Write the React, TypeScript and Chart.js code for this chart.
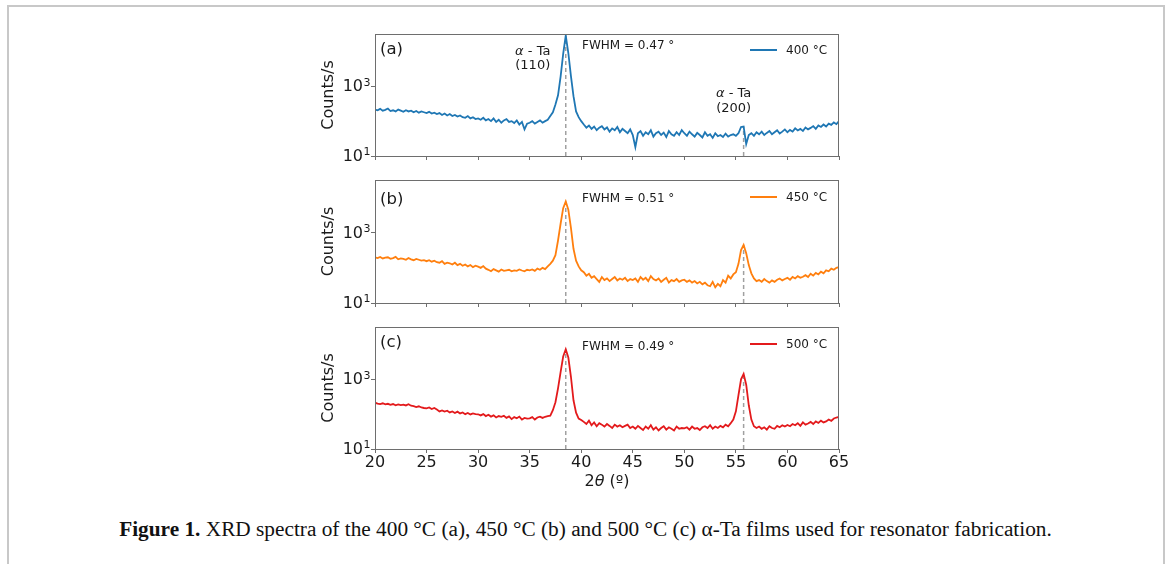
import React, { useEffect, useRef } from 'react';
import { Chart, registerables } from 'chart.js';

Chart.register(...registerables);

// ---------- data ----------
// 2θ sampling grid (degrees), 0.25° steps from 20 to 65
const twoTheta: number[] = Array.from({ length: 181 }, (_, i) => 20 + i * 0.25);

const xTicks = [20, 25, 30, 35, 40, 45, 50, 55, 60, 65];
const yTickValues = [10, 1000];
const yTickBase = '10';
const yTickExponents = ['1', '3'];

const peakPositions = [38.5, 55.75];
const peakNames = ['(110)', '(200)'];
const phaseName = ' - Ta';

const panelLabels = ['(a)', '(b)', '(c)'];
const legendLabels = ['400 °C', '450 °C', '500 °C'];
const fwhmTexts = ['FWHM = 0.47 °', 'FWHM = 0.51 °', 'FWHM = 0.49 °'];
const seriesColors = ['#1f77b4', '#ff7f0e', '#e31a1c'];

// 400 °C
const counts400: number[] = [
  215, 205, 225, 200, 210, 230, 195, 205, 190, 215, 200, 185, 205, 190, 200, 180, 195, 175, 190, 180,
  170, 185, 165, 175, 160, 170, 150, 165, 145, 160, 140, 150, 135, 145, 130, 125, 140, 120, 130, 115,
  120, 110, 125, 105, 115, 100, 120, 95, 110, 90, 105, 115, 95, 100, 88, 105, 80, 95, 58, 85,
  90, 100, 85, 95, 105, 90, 100, 110, 140, 180, 300, 550, 1900, 8500, 28500, 9000, 2000, 520, 190, 130,
  100, 80, 65, 75, 60, 70, 55, 65, 72, 58, 66, 50, 62, 55, 68, 48, 60, 52, 45, 58,
  40, 18, 45, 52, 38, 48, 42, 55, 36, 45, 50, 40, 47, 35, 52, 42, 38, 48, 40, 55,
  45, 38, 50, 42, 36, 46, 40, 34, 48, 38, 42, 33, 45, 37, 40, 35, 44, 36, 40, 42,
  38, 45, 68, 70, 22, 40, 45, 38, 48, 42, 50, 40, 46, 52, 42, 48, 55, 44, 50, 58,
  48, 56, 50, 62, 54, 60, 52, 66, 58, 64, 72, 60, 75, 68, 80, 70, 85, 78, 92, 82,
  100,
];

// 450 °C
const counts450: number[] = [
  200, 190, 205, 185, 195, 200, 180, 190, 205, 175, 185, 180, 170, 190, 175, 165, 180, 170, 160, 165,
  155, 165, 150, 160, 145, 140, 155, 130, 140, 135, 125, 140, 120, 130, 115, 125, 110, 120, 105, 115,
  108, 100, 112, 95, 88, 80, 92, 85, 78, 90, 82, 85, 88, 80, 85, 82, 90, 84, 80, 88,
  85, 90, 82, 95, 88, 100, 92, 110, 130, 160, 230, 600, 1800, 5000, 7700, 4500, 1400, 350, 160, 110,
  85, 75, 60, 68, 52, 58, 48, 40, 55, 45, 50, 42, 48, 55, 44, 50, 46, 52, 42, 48,
  45, 50, 40, 55, 46, 52, 42, 58, 48, 44, 50, 40, 46, 52, 38, 45, 42, 48, 40, 44,
  46, 40, 44, 38, 42, 36, 40, 34, 38, 32, 30, 40, 28, 35, 30, 45, 38, 60, 50, 65,
  75, 130, 320, 450, 260, 120, 70, 50, 42, 45, 40, 48, 42, 38, 44, 40, 46, 50, 44, 48,
  52, 46, 55, 50, 58, 52, 56, 62, 55, 68, 60, 72, 65, 78, 70, 85, 80, 95, 88, 100,
  105,
];

// 500 °C
const counts500: number[] = [
  213, 200, 195, 205, 190, 198, 185, 195, 180, 190, 182, 188, 178, 192, 175, 170, 160, 168, 155, 150,
  147, 155, 140, 150, 135, 120, 128, 118, 125, 112, 120, 108, 118, 105, 112, 100, 108, 98, 105, 100,
  99, 92, 100, 88, 96, 85, 92, 80, 88, 84, 90, 78, 86, 72, 82, 76, 85, 70, 78, 74,
  76, 82, 70, 80, 85, 78, 84, 88, 90, 130, 220, 550, 1600, 4500, 7250, 4200, 1200, 250, 110, 75,
  68, 60, 52, 65, 48, 58, 45, 55, 50, 44, 52, 46, 40, 50, 44, 48, 42, 46, 50, 40,
  44, 38, 46, 40, 35, 44, 38, 48, 36, 42, 34, 40, 45, 36, 42, 38, 34, 44, 38, 40,
  39, 42, 36, 44, 38, 40, 35, 42, 45, 40, 48, 38, 44, 40, 46, 42, 50, 45, 55, 70,
  120, 350, 1000, 1420, 700, 180, 70, 45, 40, 44, 38, 42, 36, 45, 40, 38, 46, 42, 48, 44,
  49, 45, 52, 48, 55, 46, 58, 50, 54, 60, 52, 62, 56, 65, 58, 62, 70, 64, 75, 80,
  84,
];

const seriesList = [counts400, counts450, counts500];

// ---------- layout ----------
const FONT = '"DejaVu Sans", sans-serif';
const AXIS_COLOR = '#6e6e6e';
const TEXT_COLOR = '#1a1a1a';
const CANVAS_LEFT = 300;
const CANVAS_W = 560;
const PANEL_TOPS = [20, 166, 313];
const PANEL_HEIGHTS = [150, 151, 190];
const X_BOX = [14, 14, 54];
// vertical offsets (canvas-relative) for label, fwhm, legend
const LABEL_Y = [30, 34, 30];
const FWHM_Y = [26, 33, 34];
const LEGEND_Y = [30, 31, 31];

function valueAt(series: number[], angle: number): number {
  let best = 0;
  for (let i = 0; i < twoTheta.length; i++) {
    if (Math.abs(twoTheta[i] - angle) < Math.abs(twoTheta[best] - angle)) best = i;
  }
  return series[best];
}

function drawAlphaText(ctx: CanvasRenderingContext2D, cx: number, cy: number, size: number) {
  ctx.font = `italic ${size}px ${FONT}`;
  const wa = ctx.measureText('α').width;
  ctx.font = `${size}px ${FONT}`;
  const wr = ctx.measureText(phaseName).width;
  const x0 = cx - (wa + wr) / 2;
  ctx.textAlign = 'left';
  ctx.font = `italic ${size}px ${FONT}`;
  ctx.fillText('α', x0, cy);
  ctx.font = `${size}px ${FONT}`;
  ctx.fillText(phaseName, x0 + wa, cy);
}

function Panel({ idx }: { idx: number }) {
  const ref = useRef<HTMLCanvasElement>(null);
  useEffect(() => {
    const canvas = ref.current;
    if (!canvas) return;
    const series = seriesList[idx];
    const color = seriesColors[idx];
    const showX = idx === 2;

    const decor = {
      id: 'decor' + idx,
      afterDatasetsDraw(chart: any) {
        const { ctx, chartArea: a, scales } = chart;
        ctx.save();
        // frame
        ctx.strokeStyle = AXIS_COLOR;
        ctx.lineWidth = 1;
        ctx.strokeRect(a.left + 0.5, a.top + 0.5, a.right - a.left - 1, a.bottom - a.top);
        ctx.fillStyle = TEXT_COLOR;
        ctx.textBaseline = 'middle';
        // y tick labels: 10^n
        yTickValues.forEach((v, k) => {
          const y = scales.y.getPixelForValue(v);
          ctx.font = `16px ${FONT}`;
          ctx.textAlign = 'right';
          ctx.fillText(yTickBase, a.left - 12, y + 1);
          ctx.font = `11px ${FONT}`;
          ctx.textAlign = 'left';
          ctx.fillText(yTickExponents[k], a.left - 11.5, y - 3.5);
        });
        // panel label
        ctx.font = `16.5px ${FONT}`;
        ctx.textAlign = 'left';
        ctx.fillText(panelLabels[idx], 80, LABEL_Y[idx]);
        // FWHM
        ctx.font = `12px ${FONT}`;
        ctx.fillText(fwhmTexts[idx], 282, FWHM_Y[idx]);
        // legend
        ctx.strokeStyle = color;
        ctx.lineWidth = 2;
        ctx.beginPath();
        ctx.moveTo(450, LEGEND_Y[idx]);
        ctx.lineTo(477, LEGEND_Y[idx]);
        ctx.stroke();
        ctx.fillText(legendLabels[idx], 486, LEGEND_Y[idx] + 0.5);
        // y title
        ctx.save();
        ctx.translate(29, (a.top + a.bottom) / 2);
        ctx.rotate(-Math.PI / 2);
        ctx.textAlign = 'center';
        ctx.font = `16px ${FONT}`;
        ctx.fillText('Counts/s', 0, 0);
        ctx.restore();
        // peak annotations (panel a)
        if (idx === 0) {
          const x1 = scales.x.getPixelForValue(peakPositions[0]) - 33;
          drawAlphaText(ctx, x1, 32, 13);
          ctx.textAlign = 'center';
          ctx.font = `13px ${FONT}`;
          ctx.fillText(peakNames[0], x1, 46);
          const x2 = scales.x.getPixelForValue(peakPositions[1]) - 10;
          drawAlphaText(ctx, x2, 74, 13);
          ctx.textAlign = 'center';
          ctx.font = `13px ${FONT}`;
          ctx.fillText(peakNames[1], x2, 89);
        }
        // x title
        if (showX) {
          const cx = (a.left + a.right) / 2;
          const cy = 168.5;
          ctx.font = `16px ${FONT}`;
          const w2 = ctx.measureText('2').width;
          const wr = ctx.measureText(' (º)').width;
          ctx.font = `italic 16px ${FONT}`;
          const wt = ctx.measureText('θ').width;
          const x0 = cx - (w2 + wt + wr) / 2;
          ctx.textAlign = 'left';
          ctx.font = `16px ${FONT}`;
          ctx.fillText('2', x0, cy);
          ctx.font = `italic 16px ${FONT}`;
          ctx.fillText('θ', x0 + w2, cy);
          ctx.font = `16px ${FONT}`;
          ctx.fillText(' (º)', x0 + w2 + wt, cy);
        }
        ctx.restore();
      },
    };

    const dashSets = peakPositions.map((p) => ({
      data: [
        { x: p, y: 10 },
        { x: p, y: valueAt(series, p) },
      ],
      borderColor: '#a0a0a0',
      borderWidth: 1.5,
      borderDash: [4, 3],
      pointRadius: 0,
      order: 2,
    }));

    const chart = new Chart(canvas, {
      type: 'line',
      data: {
        datasets: [
          {
            data: twoTheta.map((x, i) => ({ x, y: series[i] })),
            borderColor: color,
            borderWidth: 1.8,
            pointRadius: 0,
            tension: 0,
            order: 1,
          },
          ...dashSets,
        ] as any,
      },
      options: {
        responsive: false,
        animation: false,
        devicePixelRatio: 1,
        layout: { padding: { left: 0, right: 21, top: 14, bottom: 0 } },
        plugins: { legend: { display: false }, tooltip: { enabled: false } },
        scales: {
          x: {
            type: 'linear',
            min: 20,
            max: 65,
            afterBuildTicks: (s: any) => {
              s.ticks = xTicks.map((v) => ({ value: v }));
            },
            afterFit: (s: any) => {
              s.height = X_BOX[idx];
            },
            ticks: {
              display: showX,
              autoSkip: false,
              maxRotation: 0,
              padding: 0,
              color: TEXT_COLOR,
              font: { family: FONT, size: 16 },
              callback: (v: any) => String(v),
            },
            grid: { drawOnChartArea: false, drawTicks: true, tickLength: 4, color: AXIS_COLOR },
            border: { display: false },
          },
          y: {
            type: 'logarithmic',
            min: 10,
            max: 31623,
            afterBuildTicks: (s: any) => {
              s.ticks = yTickValues.map((v) => ({ value: v }));
            },
            afterFit: (s: any) => {
              s.width = 75;
            },
            ticks: {
              display: false,
              autoSkip: false,
            },
            grid: { drawOnChartArea: false, drawTicks: true, tickLength: 4, color: AXIS_COLOR },
            border: { display: false },
          },
        },
      } as any,
      plugins: [decor],
    });
    return () => chart.destroy();
  }, [idx]);

  return (
    <canvas
      ref={ref}
      width={CANVAS_W}
      height={PANEL_HEIGHTS[idx]}
      style={{
        position: 'absolute',
        left: CANVAS_LEFT,
        top: PANEL_TOPS[idx],
        width: CANVAS_W,
        height: PANEL_HEIGHTS[idx],
      }}
    />
  );
}

export default function App() {
  return (
    <div
      style={{
        position: 'absolute',
        left: 0,
        top: 0,
        width: 1167,
        height: 564,
        overflow: 'hidden',
        background: '#fff',
      }}
    >
      <div
        style={{
          position: 'absolute',
          left: 7,
          top: 5,
          width: 1158,
          height: 620,
          boxSizing: 'border-box',
          borderTop: '2px solid #c8c8c8',
          borderLeft: '2px solid #c8c8c8',
          borderRight: '2px solid #c8c8c8',
        }}
      />
      <Panel idx={0} />
      <Panel idx={1} />
      <Panel idx={2} />
      <div
        style={{
          position: 'absolute',
          left: 0,
          top: 516,
          width: 1171,
          textAlign: 'center',
          fontFamily: '"Liberation Serif", "Times New Roman", serif',
          fontSize: 21.3,
          lineHeight: '26px',
          color: '#111',
          whiteSpace: 'nowrap',
        }}
      >
        <b>Figure 1.</b> XRD spectra of the 400 °C (a), 450 °C (b) and 500 °C (c) α-Ta films used for
        resonator fabrication.
      </div>
    </div>
  );
}
